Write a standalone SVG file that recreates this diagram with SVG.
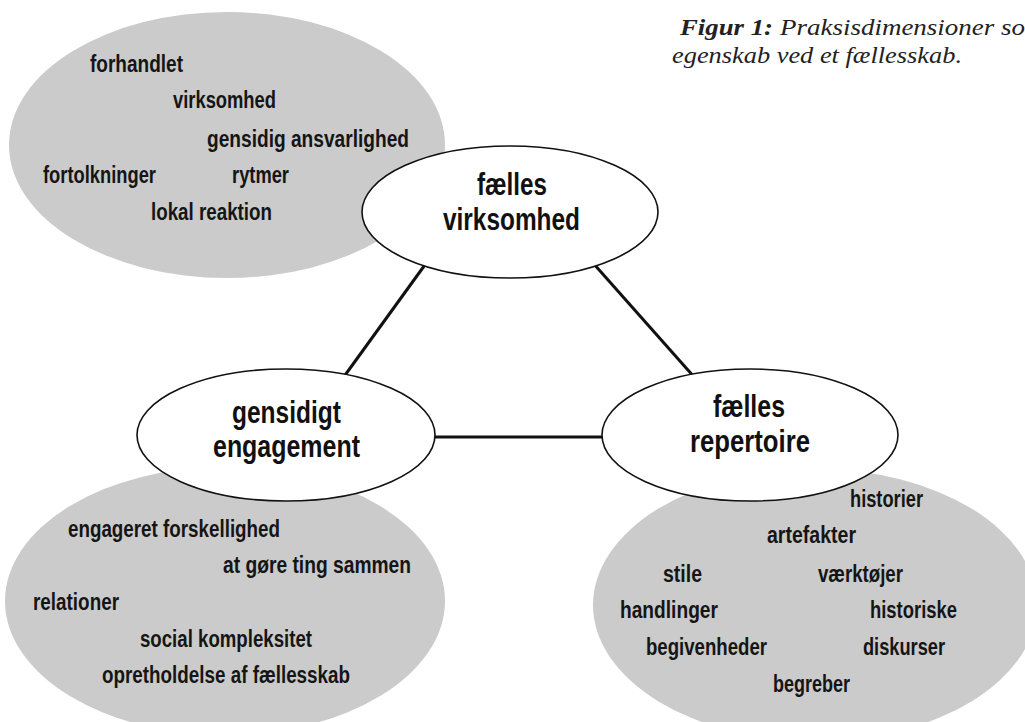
<svg xmlns="http://www.w3.org/2000/svg" width="1025" height="722" viewBox="0 0 1025 722">
  <style>
    .cloud { fill: #cbcbcb; stroke: none; }
    .node { fill: #ffffff; stroke: #111111; stroke-width: 1.6; }
    .conn { stroke: #111111; stroke-width: 3; fill: none; stroke-linecap: butt; }
    .small { font-family: "Liberation Sans", Arial, sans-serif; font-weight: bold; font-size: 23.5px; fill: #151515; }
    .big { font-family: "Liberation Sans", Arial, sans-serif; font-weight: bold; font-size: 31px; fill: #111111; }
    .cap { font-family: "Liberation Serif", "Times New Roman", serif; font-style: italic; font-size: 24px; fill: #222222; }
    .capb { font-weight: bold; }
  </style>
  <rect width="1025" height="722" fill="#ffffff"/>

  <g id="caption">
    <text class="cap capb" x="680" y="35" textLength="93" lengthAdjust="spacingAndGlyphs">Figur 1:</text>
    <text class="cap" x="780" y="35" textLength="245" lengthAdjust="spacingAndGlyphs">Praksisdimensioner so</text>
    <text class="cap" x="672" y="63" textLength="290" lengthAdjust="spacingAndGlyphs">egenskab ved et fællesskab.</text>
  </g>

  <g id="cloud-virksomhed">
    <ellipse class="cloud" cx="227" cy="145" rx="218" ry="133"/>
    <text class="small" x="90" y="72" textLength="93" lengthAdjust="spacingAndGlyphs">forhandlet</text>
    <text class="small" x="173" y="108" textLength="103" lengthAdjust="spacingAndGlyphs">virksomhed</text>
    <text class="small" x="207" y="147" textLength="202" lengthAdjust="spacingAndGlyphs">gensidig ansvarlighed</text>
    <text class="small" x="43" y="183" textLength="113" lengthAdjust="spacingAndGlyphs">fortolkninger</text>
    <text class="small" x="232" y="183" textLength="57" lengthAdjust="spacingAndGlyphs">rytmer</text>
    <text class="small" x="151" y="220" textLength="121" lengthAdjust="spacingAndGlyphs">lokal reaktion</text>
  </g>

  <g id="cloud-engagement">
    <ellipse class="cloud" cx="225" cy="601" rx="220" ry="134"/>
    <text class="small" x="68" y="537" textLength="212" lengthAdjust="spacingAndGlyphs">engageret forskellighed</text>
    <text class="small" x="223" y="573" textLength="188" lengthAdjust="spacingAndGlyphs">at gøre ting sammen</text>
    <text class="small" x="33" y="610" textLength="86" lengthAdjust="spacingAndGlyphs">relationer</text>
    <text class="small" x="140" y="647" textLength="172" lengthAdjust="spacingAndGlyphs">social kompleksitet</text>
    <text class="small" x="102" y="683" textLength="248" lengthAdjust="spacingAndGlyphs">opretholdelse af fællesskab</text>
  </g>

  <g id="cloud-repertoire">
    <ellipse class="cloud" cx="815" cy="605" rx="222" ry="136"/>
    <text class="small" x="850" y="507" textLength="73" lengthAdjust="spacingAndGlyphs">historier</text>
    <text class="small" x="767" y="543" textLength="89" lengthAdjust="spacingAndGlyphs">artefakter</text>
    <text class="small" x="663" y="582" textLength="39" lengthAdjust="spacingAndGlyphs">stile</text>
    <text class="small" x="818" y="582" textLength="85" lengthAdjust="spacingAndGlyphs">værktøjer</text>
    <text class="small" x="620" y="618" textLength="98" lengthAdjust="spacingAndGlyphs">handlinger</text>
    <text class="small" x="870" y="618" textLength="87" lengthAdjust="spacingAndGlyphs">historiske</text>
    <text class="small" x="646" y="655" textLength="121" lengthAdjust="spacingAndGlyphs">begivenheder</text>
    <text class="small" x="863" y="655" textLength="82" lengthAdjust="spacingAndGlyphs">diskurser</text>
    <text class="small" x="773" y="692" textLength="77" lengthAdjust="spacingAndGlyphs">begreber</text>
  </g>

  <g id="connectors">
    <line class="conn" x1="427" y1="262" x2="343" y2="378"/>
    <line class="conn" x1="593" y1="263" x2="695" y2="378"/>
    <line class="conn" x1="430" y1="437" x2="607" y2="437"/>
  </g>

  <g id="node-faelles-virksomhed">
    <ellipse class="node" cx="510" cy="212" rx="148" ry="66"/>
    <text class="big" x="477" y="195" textLength="70" lengthAdjust="spacingAndGlyphs">fælles</text>
    <text class="big" x="443" y="230" textLength="137" lengthAdjust="spacingAndGlyphs">virksomhed</text>
  </g>

  <g id="node-gensidigt-engagement">
    <ellipse class="node" cx="286" cy="435" rx="149" ry="66"/>
    <text class="big" x="232" y="423" textLength="109" lengthAdjust="spacingAndGlyphs">gensidigt</text>
    <text class="big" x="213" y="457" textLength="147" lengthAdjust="spacingAndGlyphs">engagement</text>
  </g>

  <g id="node-faelles-repertoire">
    <ellipse class="node" cx="750" cy="435" rx="148" ry="66"/>
    <text class="big" x="713" y="417" textLength="72" lengthAdjust="spacingAndGlyphs">fælles</text>
    <text class="big" x="690" y="452" textLength="120" lengthAdjust="spacingAndGlyphs">repertoire</text>
  </g>
</svg>
